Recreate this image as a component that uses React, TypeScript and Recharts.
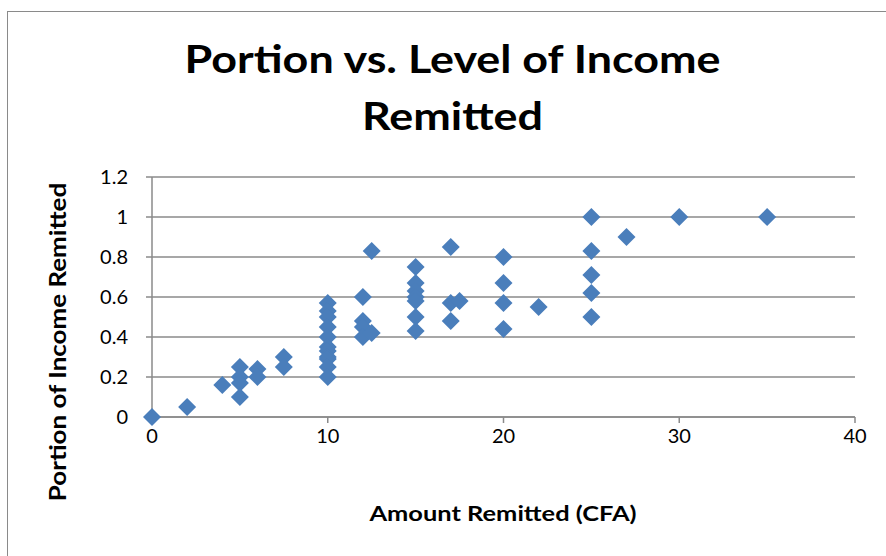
import React from "react";
import { ScatterChart, Scatter, XAxis, YAxis, CartesianGrid } from "recharts";

// amount remitted (CFA) and portion of income remitted
const amounts = [
  0, 2, 4, 5, 5, 5, 5, 6, 6, 7.5, 7.5,
  10, 10, 10, 10, 10, 10, 10, 10, 10, 10, 10,
  12, 12, 12, 12, 12.5, 12.5,
  15, 15, 15, 15, 15, 15, 15,
  17, 17, 17, 17.5,
  20, 20, 20, 20, 22,
  25, 25, 25, 25, 25, 27, 30, 35,
];
const portions = [
  0, 0.05, 0.16, 0.25, 0.2, 0.17, 0.1, 0.24, 0.2, 0.3, 0.25,
  0.57, 0.53, 0.5, 0.45, 0.4, 0.35, 0.33, 0.3, 0.29, 0.25, 0.2,
  0.6, 0.48, 0.45, 0.4, 0.83, 0.42,
  0.75, 0.67, 0.63, 0.6, 0.58, 0.5, 0.43,
  0.85, 0.57, 0.48, 0.58,
  0.8, 0.67, 0.57, 0.44, 0.55,
  1, 0.83, 0.71, 0.62, 0.5, 0.9, 1, 1,
];
const xTicks = [0, 10, 20, 30, 40];
const yTicks = [0, 0.2, 0.4, 0.6, 0.8, 1, 1.2];

const points = amounts.map((x, i) => ({ x, y: portions[i] }));

const font = "Lato, 'Open Sans', sans-serif";
const grey = "#8a8a8a";

function Diamond(props: any) {
  const { cx, cy } = props;
  const r = 9;
  return (
    <polygon
      points={`${cx},${cy - r} ${cx + r},${cy} ${cx},${cy + r} ${cx - r},${cy}`}
      fill="#4a7ebb"
    />
  );
}

export default function App() {
  return (
    <div style={{ position: "absolute", left: 0, top: 0, width: 886, height: 556, background: "#fff", fontFamily: font, overflow: "hidden" }}>
      <div
        style={{
          position: "absolute",
          left: 7,
          top: 11,
          width: 900,
          height: 560,
          border: `1.5px solid ${grey}`,
        }}
      />
      <div
        style={{
          position: "absolute",
          left: 0,
          top: 30,
          width: 905,
          textAlign: "center",
          fontSize: 39,
          fontWeight: 700,
          lineHeight: "57px",
          color: "#000",
          transform: "scaleX(1.15)",
          transformOrigin: "452.5px 0",
        }}
      >
        Portion vs. Level of Income
        <br />
        Remitted
      </div>
      <div
        style={{
          position: "absolute",
          left: 57,
          top: 342,
          transform: "translate(-50%, -50%) rotate(-90deg) scaleX(1.18)",
          whiteSpace: "nowrap",
          fontSize: 22,
          fontWeight: 700,
        }}
      >
        Portion of Income Remitted
      </div>
      <div
        style={{
          position: "absolute",
          left: 503,
          top: 500,
          transform: "translateX(-50%) scaleX(1.21)",
          whiteSpace: "nowrap",
          fontSize: 21,
          fontWeight: 700,
        }}
      >
        Amount Remitted (CFA)
      </div>
      <ScatterChart
        width={886}
        height={556}
        margin={{ top: 177, right: 31, bottom: 99, left: 92 }}
        style={{ position: "absolute", left: 0, top: 0 }}
      >
        <CartesianGrid vertical={false} stroke={grey} strokeWidth={1.5} />
        <XAxis
          type="number"
          dataKey="x"
          domain={[0, 40]}
          ticks={xTicks}
          height={40}
          stroke={grey}
          strokeWidth={1.5}
          tickSize={6}
          tickMargin={6}
          tick={{ fill: "#000", fontSize: 20, fontFamily: font }}
        />
        <YAxis
          type="number"
          dataKey="y"
          domain={[0, 1.2]}
          ticks={yTicks}
          width={60}
          stroke={grey}
          strokeWidth={1.5}
          tickSize={6}
          tickMargin={18}
          tick={{ fill: "#000", fontSize: 20, fontFamily: font }}
        />
        <Scatter data={points} shape={Diamond} isAnimationActive={false} />
      </ScatterChart>
    </div>
  );
}
